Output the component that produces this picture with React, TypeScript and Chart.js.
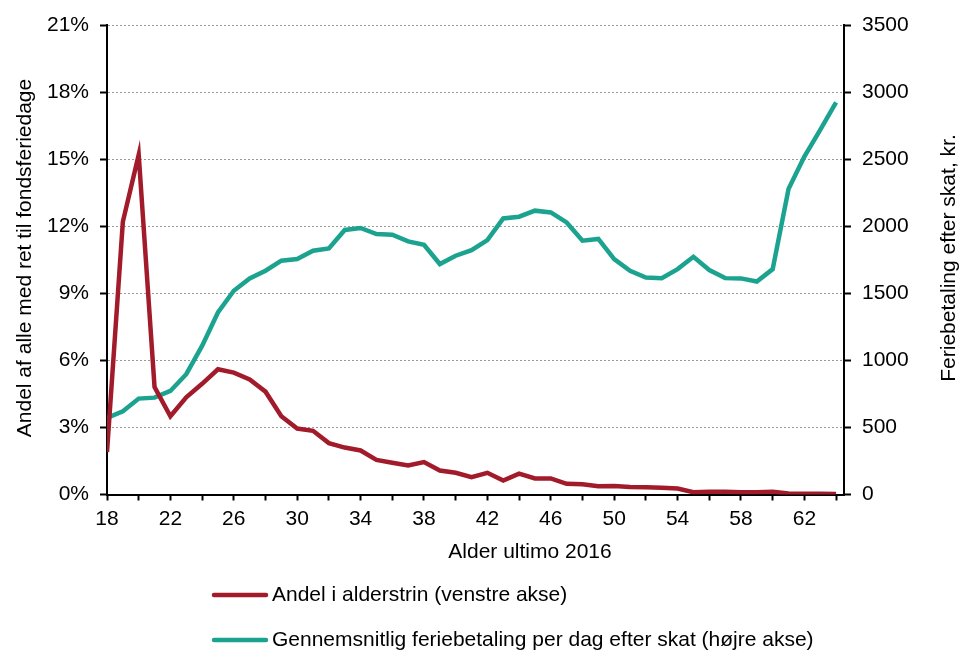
import React, { useEffect, useRef } from "react";
import { Chart, registerables } from "chart.js";

Chart.register(...registerables);

const ages: number[] = [
  18, 19, 20, 21, 22, 23, 24, 25, 26, 27, 28, 29, 30, 31, 32, 33, 34, 35, 36, 37, 38, 39, 40, 41,
  42, 43, 44, 45, 46, 47, 48, 49, 50, 51, 52, 53, 54, 55, 56, 57, 58, 59, 60, 61, 62, 63, 64,
];

// Andel i alderstrin (%), left axis
const andel: number[] = [
  1.9, 12.2, 15.2, 4.8, 3.5, 4.35, 4.95, 5.6, 5.45, 5.15, 4.6, 3.5, 2.95, 2.85, 2.3, 2.1, 1.97,
  1.55, 1.42, 1.3, 1.45, 1.07, 0.97, 0.78, 0.97, 0.62, 0.93, 0.72, 0.72, 0.48, 0.46, 0.37, 0.38,
  0.34, 0.32, 0.3, 0.27, 0.1, 0.12, 0.12, 0.1, 0.1, 0.12, 0.04, 0.03, 0.03, 0.02,
];

// Gennemsnitlig feriebetaling per dag efter skat (kr.), right axis
const feriebetaling: number[] = [
  570, 620, 715, 722, 772, 897, 1108, 1357, 1519, 1610, 1668, 1743, 1755, 1817, 1834, 1972, 1987,
  1942, 1937, 1887, 1862, 1718, 1780, 1822, 1897, 2058, 2071, 2116, 2103, 2028, 1892, 1905, 1755,
  1668, 1618, 1613, 1680, 1772, 1673, 1613, 1611, 1588, 1680, 2277, 2519, 2718, 2924,
];

const seriesLabels: string[] = [
  "Andel i alderstrin (venstre akse)",
  "Gennemsnitlig feriebetaling per dag efter skat (højre akse)",
];
const xTitle = "Alder ultimo 2016";
const leftTitle = "Andel af alle med ret til fondsferiedage";
const rightTitle = "Feriebetaling efter skat, kr.";

const RED = "#A21B2B";
const TEAL = "#1BA38F";
const FONT = "Liberation Sans, Arial, Helvetica, sans-serif";

const annotations = {
  id: "customText",
  afterDraw(chart: any) {
    const ctx = chart.ctx;
    ctx.save();
    ctx.fillStyle = "#000";
    ctx.font = `21px ${FONT}`;
    ctx.textBaseline = "middle";
    // x title
    ctx.textAlign = "center";
    ctx.fillText(xTitle, 530, 552);
    // left title
    ctx.save();
    ctx.translate(25, 258);
    ctx.rotate(-Math.PI / 2);
    ctx.fillText(leftTitle, 0, 0);
    ctx.restore();
    // right title
    ctx.save();
    ctx.translate(949, 258);
    ctx.rotate(-Math.PI / 2);
    ctx.fillText(rightTitle, 0, 0);
    ctx.restore();
    // legend
    const rows = [
      { y: 595, color: RED, label: seriesLabels[0] },
      { y: 640, color: TEAL, label: seriesLabels[1] },
    ];
    ctx.textAlign = "left";
    rows.forEach((r) => {
      ctx.strokeStyle = r.color;
      ctx.lineWidth = 4.5;
      ctx.lineCap = "round";
      ctx.beginPath();
      ctx.moveTo(214, r.y);
      ctx.lineTo(266, r.y);
      ctx.stroke();
      ctx.fillText(r.label, 272, r.y);
    });
    ctx.restore();
  },
};

export default function App() {
  const ref = useRef<HTMLCanvasElement | null>(null);

  useEffect(() => {
    if (!ref.current) return;
    const chart = new Chart(ref.current, {
      type: "line",
      data: {
        datasets: [
          {
            label: seriesLabels[0],
            data: ages.map((a, i) => ({ x: a, y: andel[i] })),
            borderColor: RED,
            backgroundColor: RED,
            borderWidth: 4.5,
            pointRadius: 0,
            tension: 0,
            yAxisID: "y",
          },
          {
            label: seriesLabels[1],
            data: ages.map((a, i) => ({ x: a, y: feriebetaling[i] })),
            borderColor: TEAL,
            backgroundColor: TEAL,
            borderWidth: 4.5,
            pointRadius: 0,
            tension: 0,
            yAxisID: "y1",
          },
        ],
      },
      options: {
        animation: false,
        responsive: false,
        devicePixelRatio: 1,
        layout: { padding: { top: 25, left: 0, right: 0, bottom: 0 } },
        font: { family: FONT, size: 21 },
        plugins: {
          legend: { display: false },
          tooltip: { enabled: false },
        },
        scales: {
          x: {
            type: "linear",
            min: 18,
            max: 64.5,
            afterFit: (s: any) => {
              s.height = 155.5;
            },
            border: { display: true, color: "#000", width: 2 },
            grid: {
              display: true,
              drawOnChartArea: false,
              drawTicks: true,
              tickLength: 6,
              tickColor: "#000",
              tickWidth: 2,
            },
            ticks: {
              stepSize: 2,
              includeBounds: false,
              autoSkip: false,
              maxRotation: 0,
              padding: 6,
              color: "#000",
              font: { family: FONT, size: 21 },
              callback: (v: any) => ((Number(v) - 18) % 4 === 0 ? String(v) : ""),
            },
          },
          y: {
            type: "linear",
            position: "left",
            min: 0,
            max: 21,
            afterFit: (s: any) => {
              s.width = 107;
            },
            border: { display: true, color: "#000", width: 2, dash: [2, 2] },
            grid: {
              display: true,
              drawOnChartArea: true,
              color: "#9a9a9a",
              lineWidth: 1,
              drawTicks: true,
              tickLength: 7,
              tickColor: "#000",
              tickWidth: 2,
              tickBorderDash: [],
            },
            ticks: {
              stepSize: 3,
              padding: 11,
              color: "#000",
              font: { family: FONT, size: 21 },
              callback: (v: any) => `${v}%`,
            },
          },
          y1: {
            type: "linear",
            position: "right",
            min: 0,
            max: 3500,
            afterFit: (s: any) => {
              s.width = 117;
            },
            border: { display: true, color: "#000", width: 2 },
            grid: {
              display: true,
              drawOnChartArea: false,
              drawTicks: true,
              tickLength: 7,
              tickColor: "#000",
              tickWidth: 2,
            },
            ticks: {
              stepSize: 500,
              padding: 11,
              color: "#000",
              font: { family: FONT, size: 21 },
              callback: (v: any) => String(v),
            },
          },
        },
      } as any,
      plugins: [annotations],
    });
    return () => chart.destroy();
  }, []);

  return (
    <div style={{ position: "absolute", left: 0, top: 0, width: 961, height: 650, background: "#fff" }}>
      <canvas ref={ref} width={961} height={650} style={{ display: "block" }} />
    </div>
  );
}
